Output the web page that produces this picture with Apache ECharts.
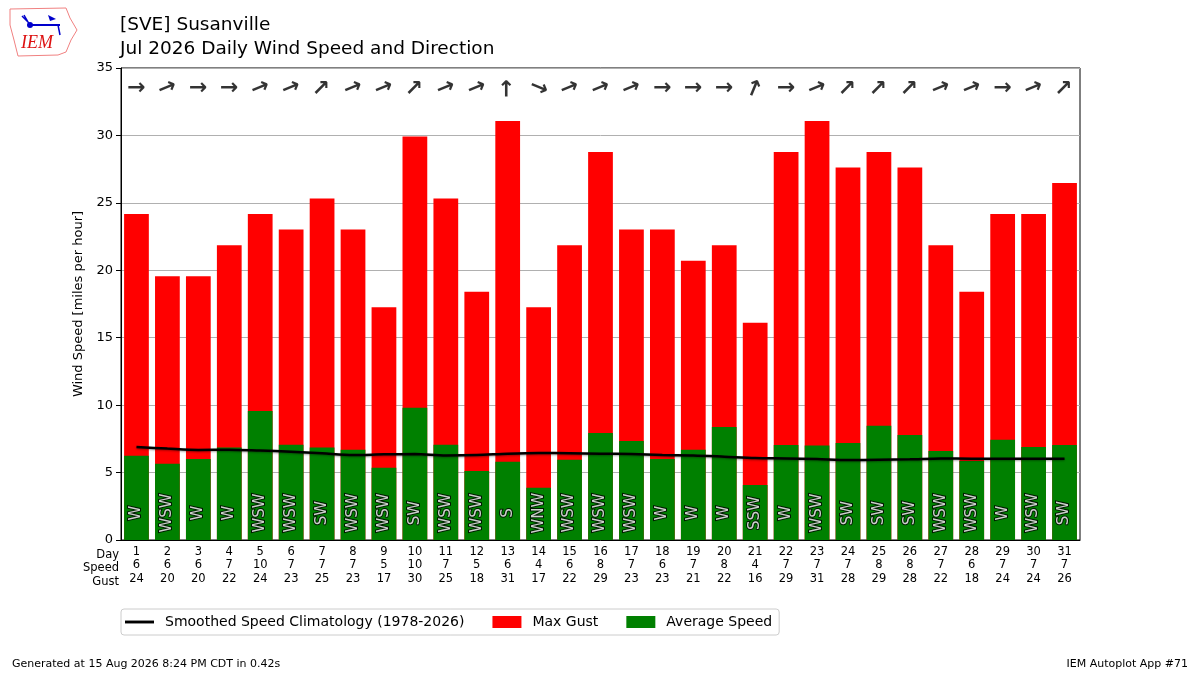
<!DOCTYPE html>
<html>
<head>
<meta charset="utf-8">
<script src="https://cdn.jsdelivr.net/npm/echarts@6/dist/echarts.min.js"></script>
<style>
  html, body { margin: 0; padding: 0; background: #fff; }
  #chart { width: 1200px; height: 675px; }
</style>
</head>
<body>
<div id="chart"></div>
<script>
// daily data, July 2026
var days = ['1', '2', '3', '4', '5', '6', '7', '8', '9', '10', '11', '12', '13', '14', '15', '16',
  '17', '18', '19', '20', '21', '22', '23', '24', '25', '26', '27', '28', '29', '30', '31'];
var avgSpeed = [6.25, 5.66, 6.01, 6.85, 9.56, 7.07, 6.85, 6.70, 5.36, 9.81, 7.07, 5.12, 5.81, 3.88, 5.96, 7.93,
  7.34, 6.01, 6.70, 8.38, 4.08, 7.04, 7.00, 7.19, 8.48, 7.79, 6.60, 5.86, 7.44, 6.90, 7.04];
var maxGust = [24.17, 19.56, 19.56, 21.86, 24.17, 23.02, 25.32, 23.02, 17.26, 29.92, 25.32, 18.41, 31.07, 17.26, 21.86, 28.77,
  23.02, 23.02, 20.71, 21.86, 16.11, 28.77, 31.07, 27.62, 28.77, 27.62, 21.86, 18.41, 24.17, 24.17, 26.47];
var climo = [6.90, 6.78, 6.68, 6.70, 6.63, 6.55, 6.43, 6.30, 6.35, 6.37, 6.27, 6.30, 6.40, 6.45, 6.43, 6.40,
  6.37, 6.30, 6.27, 6.18, 6.08, 6.05, 6.00, 5.93, 5.95, 5.98, 6.05, 6.03, 6.03, 6.03, 6.03];
var dirText = ['W', 'WSW', 'W', 'W', 'WSW', 'WSW', 'SW', 'WSW', 'WSW', 'SW', 'WSW', 'WSW', 'S', 'WNW', 'WSW', 'WSW',
  'WSW', 'W', 'W', 'W', 'SSW', 'W', 'WSW', 'SW', 'SW', 'SW', 'WSW', 'WSW', 'W', 'WSW', 'SW'];
var speedLabels = ['6', '6', '6', '7', '10', '7', '7', '7', '5', '10', '7', '5', '6', '4', '6', '8',
  '7', '6', '7', '8', '4', '7', '7', '7', '8', '8', '7', '6', '7', '7', '7'];
var gustLabels = ['24', '20', '20', '22', '24', '23', '25', '23', '17', '30', '25', '18', '31', '17', '22', '29',
  '23', '23', '21', '22', '16', '29', '31', '28', '29', '28', '22', '18', '24', '24', '26'];
var compassDeg = { S: 180, SSW: 202.5, SW: 225, WSW: 247.5, W: 270, WNW: 292.5 };

var chart = echarts.init(document.getElementById('chart'));

// arrows along the top, pointing where the wind blows to
var arrowData = days.map(function (d, i) {
  return {
    value: [d, 33.5],
    label: { rotate: 270 - compassDeg[dirText[i]] }
  };
});
var dirData = days.map(function (d, i) {
  return { value: [d, 2.0], name: dirText[i] };
});

chart.setOption({
  animation: false,
  textStyle: { fontFamily: 'DejaVu Sans' },
  title: [
    { text: '[SVE] Susanville', left: 115, top: 11,
      textStyle: { fontSize: 18.5, fontWeight: 'normal', color: '#000' } },
    { text: 'Jul 2026 Daily Wind Speed and Direction', left: 115, top: 35,
      textStyle: { fontSize: 18.5, fontWeight: 'normal', color: '#000' } }
  ],
  legend: {
    left: 121, top: 609, itemGap: 28, itemWidth: 29, itemHeight: 12,
    padding: [6, 7, 6, 4], borderColor: '#ccc', borderWidth: 1, borderRadius: 3,
    textStyle: { fontSize: 14, color: '#000', padding: [0, 0, 0, 6] },
    data: [
      { name: 'Smoothed Speed Climatology (1978-2026)', icon: 'path://M0,0 L30,0 L30,3 L0,3 Z' },
      { name: 'Max Gust', icon: 'rect' },
      { name: 'Average Speed', icon: 'rect' }
    ]
  },
  grid: { left: 121, right: 120, top: 68, bottom: 135, show: true, borderColor: '#000', borderWidth: 1 },
  xAxis: {
    type: 'category',
    data: days,
    axisLine: { lineStyle: { color: '#000' } },
    axisTick: { alignWithLabel: true, length: 5, lineStyle: { color: '#000' } },
    axisLabel: {
      color: '#000', fontSize: 11.5, lineHeight: 13.5, margin: 5,
      formatter: function (v, i) { return v + '\n' + speedLabels[i] + '\n' + gustLabels[i]; }
    }
  },
  yAxis: {
    type: 'value', min: 0, max: 35, interval: 5,
    name: 'Wind Speed [miles per hour]', nameLocation: 'middle', nameGap: 36,
    nameTextStyle: { fontSize: 13, color: '#000' },
    axisLine: { show: true, lineStyle: { color: '#000' } },
    axisTick: { show: true, length: 5, lineStyle: { color: '#000' } },
    axisLabel: { color: '#000', fontSize: 13 },
    splitLine: { lineStyle: { color: '#b0b0b0', width: 1 } }
  },
  series: [
    {
      name: 'Max Gust', type: 'bar', data: maxGust, barWidth: '80%',
      itemStyle: { color: '#ff0000' }, z: 1
    },
    {
      name: 'Average Speed', type: 'bar', data: avgSpeed, barWidth: '80%', barGap: '-100%',
      itemStyle: { color: '#008000' }, z: 2
    },
    {
      name: 'Smoothed Speed Climatology (1978-2026)', type: 'line', data: climo,
      showSymbol: false, symbol: 'none', smooth: 0.3,
      itemStyle: { color: '#000' },
      lineStyle: { color: '#000', width: 2.5, shadowColor: 'rgba(0,0,0,0.35)', shadowBlur: 2, shadowOffsetY: 1 },
      z: 5
    },
    {
      name: 'dirs', type: 'scatter', data: dirData, symbolSize: 0, silent: true, z: 6,
      label: {
        show: true, position: 'inside', rotate: 90, fontSize: 15,
        color: '#fff', textBorderColor: '#000', textBorderWidth: 2,
        formatter: function (p) { return p.name; }
      }
    },
    {
      name: 'arrows', type: 'scatter', data: arrowData, symbolSize: 0, silent: true, z: 6,
      label: {
        show: true, position: 'inside', fontSize: 22, fontWeight: 'bold', color: '#000',
        formatter: '\u2192'
      }
    }
  ],
  graphic: [
    // row labels for the x axis table
    { type: 'text', x: 119, y: 548,
      style: { text: 'Day\nSpeed\nGust', textAlign: 'right', fontSize: 11.5, lineHeight: 13.5, fill: '#000', fontFamily: 'DejaVu Sans' } },
    // footer
    { type: 'text', x: 12, y: 659,
      style: { text: 'Generated at 15 Aug 2026 8:24 PM CDT in 0.42s', fontSize: 11, fill: '#000', fontFamily: 'DejaVu Sans' } },
    { type: 'text', x: 1188, y: 659,
      style: { text: 'IEM Autoplot App #71', fontSize: 11, fill: '#000', textAlign: 'right', fontFamily: 'DejaVu Sans' } },
    // rough IEM logo
    { type: 'polyline', shape: { points: [[10, 9], [66, 8], [70, 18], [77, 30], [71, 40], [66, 52], [58, 55], [18, 56], [14, 40], [10, 25], [10, 9]] },
      style: { stroke: '#f08080', lineWidth: 1, fill: 'none' } },
    { type: 'line', shape: { x1: 30, y1: 25, x2: 60, y2: 25 }, style: { stroke: '#0000cc', lineWidth: 2 } },
    { type: 'circle', shape: { cx: 30, cy: 25, r: 3 }, style: { fill: '#0000cc' } },
    { type: 'polyline', shape: { points: [[24, 15], [28, 22], [22, 16]] }, style: { stroke: '#0000cc', lineWidth: 1.5, fill: 'none' } },
    { type: 'polygon', shape: { points: [[48, 15], [56, 19], [50, 21]] }, style: { fill: '#0000cc' } },
    { type: 'line', shape: { x1: 58, y1: 25, x2: 60, y2: 35 }, style: { stroke: '#0000cc', lineWidth: 1.5 } },
    { type: 'text', x: 21, y: 34,
      style: { text: 'IEM', fontSize: 18, fontStyle: 'italic', fontFamily: 'Liberation Serif', fill: '#dd1111' } }
  ]
});
</script>
</body>
</html>
